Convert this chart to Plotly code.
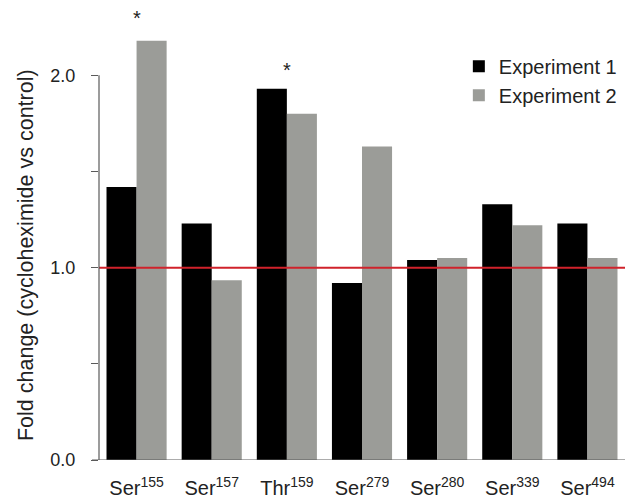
import plotly.graph_objects as go

# Phosphosites and fold changes (cycloheximide vs control)
sites = ["Ser", "Ser", "Thr", "Ser", "Ser", "Ser", "Ser"]
positions = ["155", "157", "159", "279", "280", "339", "494"]
experiment_1 = [1.42, 1.23, 1.93, 0.92, 1.04, 1.33, 1.23]
experiment_2 = [2.18, 0.935, 1.80, 1.63, 1.05, 1.22, 1.05]

# Sites marked as significant, and the height of the marker
significant = ["Ser155", "Thr159"]
star_heights = [2.30, 2.03]

y_ticks = [0, 0.5, 1.0, 1.5, 2.0]
y_tick_text = ["0.0", "", "1.0", "", "2.0"]

categories = [s + p for s, p in zip(sites, positions)]
labels = [f"{s}<sup>{p}</sup>" for s, p in zip(sites, positions)]

FONT = "Liberation Sans, Arial, Helvetica, sans-serif"
BLACK = "#000000"
GREY = "#9b9c98"
AXIS = "#5a5a5a"
RED = "#d0222b"
TEXT = "#222222"

fig = go.Figure()
fig.add_trace(go.Bar(x=categories, y=experiment_1, name="Experiment 1",
                     marker=dict(color=BLACK, line=dict(width=0))))
fig.add_trace(go.Bar(x=categories, y=experiment_2, name="Experiment 2",
                     marker=dict(color=GREY, line=dict(width=0))))

# Reference line at no change
fig.add_shape(type="line", xref="paper", yref="y", x0=0, x1=1, y0=1, y1=1,
              line=dict(color=RED, width=2), layer="above")
# Y axis line from 0 to 2
fig.add_shape(type="line", xref="paper", yref="y", x0=0, x1=0, y0=0, y1=2,
              line=dict(color=AXIS, width=1.2))
# X axis baseline
fig.add_shape(type="line", xref="paper", yref="y", x0=-0.0133, x1=1, y0=0, y1=0,
              line=dict(color=AXIS, width=1.2))

for cat, h in zip(significant, star_heights):
    fig.add_annotation(x=cat, y=h, xref="x", yref="y", text="*", showarrow=False,
                       font=dict(family=FONT, size=20, color=TEXT),
                       yanchor="middle")

fig.add_annotation(xref="paper", yref="paper", x=-0.1388, y=0.4535,
                   xanchor="center", yanchor="middle",
                   text="Fold change (cycloheximide vs control)",
                   textangle=-90, showarrow=False,
                   font=dict(family=FONT, size=21.5, color=TEXT))

fig.update_layout(
    width=634, height=501,
    margin=dict(l=99, r=9, t=8, b=41),
    paper_bgcolor="white", plot_bgcolor="white",
    barmode="group", bargap=0.2, bargroupgap=0,
    font=dict(family=FONT, color=TEXT),
    legend=dict(x=0.994, y=0.914, xanchor="right", yanchor="top",
                font=dict(family=FONT, size=20, color=TEXT),
                bgcolor="rgba(0,0,0,0)", tracegroupgap=0),
    xaxis=dict(tickmode="array", tickvals=categories, ticktext=labels,
               range=[-0.5, 6.5], showline=False, showgrid=False, ticks="",
               zeroline=False, automargin=False, ticklabelstandoff=14,
               tickfont=dict(family=FONT, size=20, color=TEXT)),
    yaxis=dict(range=[0, 2.35], tickmode="array", tickvals=y_ticks,
               ticktext=y_tick_text, ticks="outside", ticklen=7, tickwidth=1.2,
               tickcolor=AXIS, showline=False, showgrid=False, zeroline=False,
               automargin=False, ticklabelstandoff=12,
               tickfont=dict(family=FONT, size=18, color=TEXT)),
)

fig.write_html("out.html")
